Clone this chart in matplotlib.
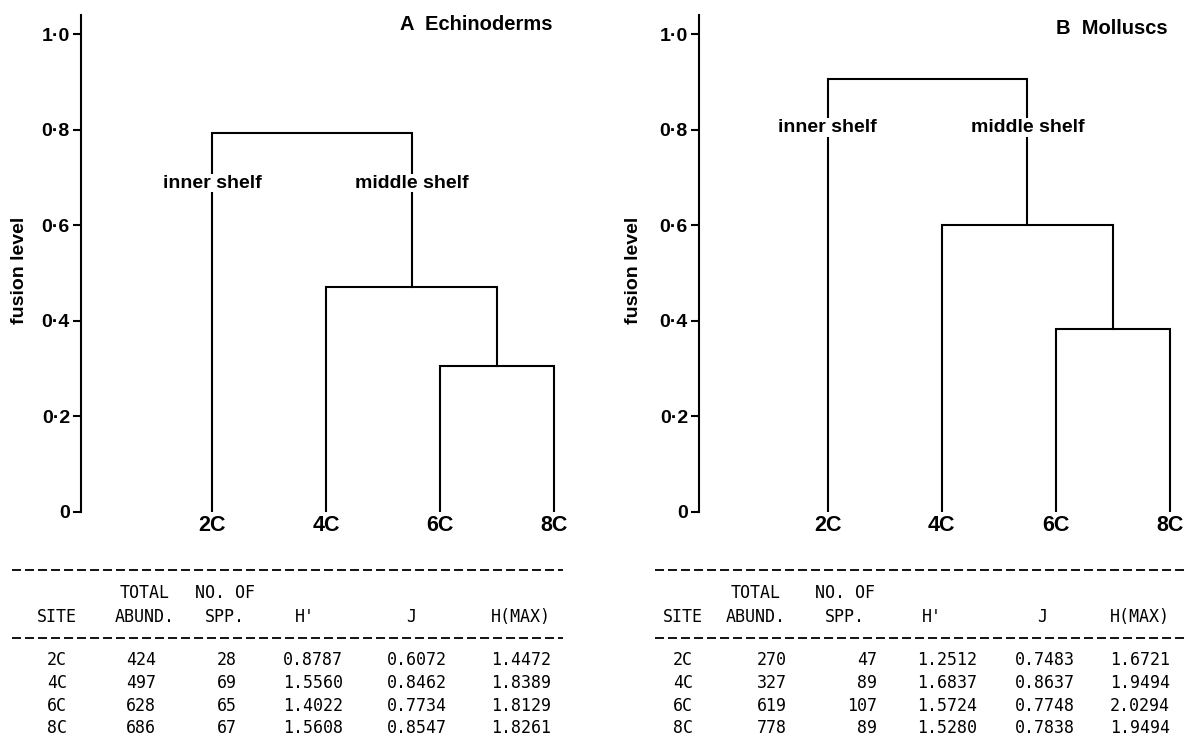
import matplotlib
matplotlib.use("Agg")
import matplotlib.pyplot as plt
from matplotlib.lines import Line2D

# data
sites = ["2C", "4C", "6C", "8C"]
merge_pairs = [(2, 3), (1, 4), (0, 5)]   # 6C+8C, then 4C, then 2C
echino_fusion = [0.305, 0.471, 0.793]
mollusc_fusion = [0.383, 0.600, 0.906]
group_labels = ["inner shelf", "middle shelf"]
yticks = [0, 0.2, 0.4, 0.6, 0.8, 1.0]
ytick_labels = ["0", "0·2", "0·4", "0·6", "0·8", "1·0"]

header_top = ["", "TOTAL", "NO. OF", "", "", ""]
header_bot = ["SITE", "ABUND.", "SPP.", "H'", "J", "H(MAX)"]

echino_abund = [424, 497, 628, 686]
echino_spp = [28, 69, 65, 67]
echino_h = [0.8787, 1.5560, 1.4022, 1.5608]
echino_j = [0.6072, 0.8462, 0.7734, 0.8547]
echino_hmax = [1.4472, 1.8389, 1.8129, 1.8261]

mollusc_abund = [270, 327, 619, 778]
mollusc_spp = [47, 89, 107, 89]
mollusc_h = [1.2512, 1.6837, 1.5724, 1.5280]
mollusc_j = [0.7483, 0.8637, 0.7748, 0.7838]
mollusc_hmax = [1.6721, 1.9494, 2.0294, 1.9494]

W, H = 1187, 749
SANS = "Liberation Sans"
MONO = "DejaVu Sans Mono"

fig = plt.figure(figsize=(W / 100, H / 100), dpi=100)


def fx(px):
    return px / W


def fy(py):
    return 1 - py / H


def draw_dendro(ax, heights, label_y):
    pos = {i: float(i) for i in range(len(sites))}
    hgt = {i: 0.0 for i in range(len(sites))}
    nid = len(sites)
    for (a, b), h in zip(merge_pairs, heights):
        xa, xb = pos[a], pos[b]
        ax.plot([xa, xa, xb, xb], [hgt[a], h, h, hgt[b]], color="black",
                lw=1.5, solid_joinstyle="miter", zorder=1)
        pos[nid] = (xa + xb) / 2
        hgt[nid] = h
        nid += 1
    # the two top groups sit under the last merge
    a, b = merge_pairs[-1]
    for lab, node in zip(group_labels, [a, b]):
        ax.text(pos[node], label_y, lab, ha="center", va="center", fontsize=14,
                fontweight="bold", family=SANS, zorder=3,
                bbox=dict(facecolor="white", edgecolor="none", pad=0.5))


def style_axis(ax, xlim):
    ax.set_xlim(*xlim)
    ax.set_ylim(0, 1.04)
    for s in ["top", "right", "bottom"]:
        ax.spines[s].set_visible(False)
    ax.spines["left"].set_linewidth(1.5)
    ax.set_yticks(yticks)
    ax.set_yticklabels(ytick_labels, fontsize=14, fontweight="bold", family=SANS)
    ax.tick_params(axis="y", direction="out", length=6, width=1.5, pad=2)
    ax.set_xticks(range(len(sites)))
    ax.set_xticklabels(sites, fontsize=15.5, fontweight="bold", family=SANS)
    ax.tick_params(axis="x", length=0, pad=2)
    ax.patch.set_alpha(0)


def draw_table(x0, x1, head_x, val_x, abund, spp, hval, jval, hmax):
    for yy in [570, 638]:
        fig.add_artist(Line2D([fx(x0), fx(x1)], [fy(yy), fy(yy)], color="black",
                              lw=1.3, dashes=(5, 2.2)))
    for i in range(6):
        if header_top[i]:
            fig.text(fx(head_x[i]), fy(593), header_top[i], ha="center", va="center",
                     fontsize=12, family=MONO)
        fig.text(fx(head_x[i]), fy(617), header_bot[i], ha="center", va="center",
                 fontsize=12, family=MONO)
    row_y = [660, 683, 706, 728]
    for r in range(len(sites)):
        cells = [sites[r], str(abund[r]), str(spp[r]),
                 "%.4f" % hval[r], "%.4f" % jval[r], "%.4f" % hmax[r]]
        for c in range(6):
            ha = "right" if c == 2 else "center"
            fig.text(fx(val_x[c]), fy(row_y[r]), cells[c], ha=ha, va="center",
                     fontsize=12, family=MONO)


# panel A
axA = fig.add_axes([fx(81), fy(512), fx(570) - fx(81), fy(15) - fy(512)])
draw_dendro(axA, echino_fusion, 0.688)
style_axis(axA, (-1.15, 3.14))
fig.text(fx(552), fy(24), "A  Echinoderms", ha="right", va="center", fontsize=14.5,
         fontweight="bold", family=SANS)
fig.text(fx(20), fy(270), "fusion level", rotation=90, ha="center", va="center",
         fontsize=14, fontweight="bold", family=SANS)

# panel B
axB = fig.add_axes([fx(699), fy(512), fx(1187) - fx(699), fy(15) - fy(512)])
draw_dendro(axB, mollusc_fusion, 0.805)
style_axis(axB, (-1.13, 3.15))
fig.text(fx(1168), fy(29), "B  Molluscs", ha="right", va="center", fontsize=14.5,
         fontweight="bold", family=SANS)
fig.text(fx(633), fy(270), "fusion level", rotation=90, ha="center", va="center",
         fontsize=14, fontweight="bold", family=SANS)

draw_table(12, 563, [57, 145, 225, 305, 411, 521], [57, 141, 237, 313, 417, 521],
           echino_abund, echino_spp, echino_h, echino_j, echino_hmax)
draw_table(655, 1187, [683, 756, 845, 932, 1042, 1140], [683, 772, 877, 947, 1045, 1140],
           mollusc_abund, mollusc_spp, mollusc_h, mollusc_j, mollusc_hmax)

fig.savefig("out.png", dpi=100)
